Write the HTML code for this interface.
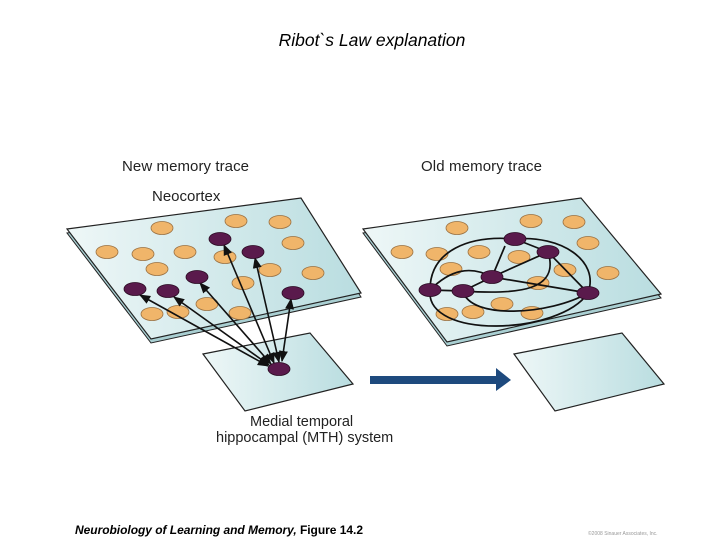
<!DOCTYPE html>
<html><head><meta charset="utf-8"><style>
html,body{margin:0;padding:0;background:#fff;width:720px;height:540px;overflow:hidden}
svg{display:block}
</style></head><body>
<svg width="720" height="540" viewBox="0 0 720 540" xmlns="http://www.w3.org/2000/svg" font-family="Liberation Sans, sans-serif">
<defs>
<linearGradient id="g" x1="0" y1="0" x2="1" y2="0">
<stop offset="0" stop-color="#eef7f7"/><stop offset="1" stop-color="#b9dde0"/>
</linearGradient>
<marker id="ah" viewBox="0 0 10 10" refX="9" refY="5" markerWidth="7" markerHeight="7" orient="auto-start-reverse">
<path d="M0,1 L10,5 L0,9 Z" fill="#111"/>
</marker>
</defs>
<text x="372" y="46" font-size="17.5" font-style="italic" text-anchor="middle">Ribot`s Law explanation</text>
<text x="122" y="171" font-size="15" fill="#222" textLength="127">New memory trace</text>
<text x="421" y="171" font-size="15" fill="#222" textLength="121">Old memory trace</text>
<text x="152" y="201" font-size="15" fill="#222">Neocortex</text>
<text x="250" y="426" font-size="14.5" fill="#222">Medial temporal</text>
<text x="216" y="442" font-size="14.5" fill="#222">hippocampal (MTH) system</text>
<text x="75" y="534" font-size="12" font-weight="bold" font-style="italic" textLength="288">Neurobiology of Learning and Memory,<tspan font-style="normal"> Figure 14.2</tspan></text>
<text x="588" y="535" font-size="5" fill="#999">©2008 Sinauer Associates, Inc.</text>

<polygon points="67,233 301,202 361,297 151,343" fill="#a9cfd2" stroke="#222" stroke-width="1"/>
<polygon points="67,229 301,198 361,293 151,339" fill="url(#g)" stroke="#222" stroke-width="1.2"/>
<polygon points="363,233 581,202 661,298 447,346" fill="#a9cfd2" stroke="#222" stroke-width="1"/>
<polygon points="363,229 581,198 661,294 447,342" fill="url(#g)" stroke="#222" stroke-width="1.2"/>
<polygon points="203,354 310,333 353,384 245,411" fill="url(#g)" stroke="#222" stroke-width="1.2"/>
<polygon points="514,354 622,333 664,384 555,411" fill="url(#g)" stroke="#222" stroke-width="1.2"/>

<g fill="#f0b56a" stroke="#9a7040" stroke-width="0.8">
<ellipse cx="162" cy="228" rx="11" ry="6.5"/><ellipse cx="236" cy="221" rx="11" ry="6.5"/>
<ellipse cx="280" cy="222" rx="11" ry="6.5"/><ellipse cx="293" cy="243" rx="11" ry="6.5"/>
<ellipse cx="107" cy="252" rx="11" ry="6.5"/><ellipse cx="143" cy="254" rx="11" ry="6.5"/>
<ellipse cx="185" cy="252" rx="11" ry="6.5"/><ellipse cx="225" cy="257" rx="11" ry="6.5"/>
<ellipse cx="157" cy="269" rx="11" ry="6.5"/><ellipse cx="270" cy="270" rx="11" ry="6.5"/>
<ellipse cx="313" cy="273" rx="11" ry="6.5"/><ellipse cx="243" cy="283" rx="11" ry="6.5"/>
<ellipse cx="207" cy="304" rx="11" ry="6.5"/><ellipse cx="152" cy="314" rx="11" ry="6.5"/>
<ellipse cx="178" cy="312" rx="11" ry="6.5"/><ellipse cx="240" cy="313" rx="11" ry="6.5"/>

<ellipse cx="457" cy="228" rx="11" ry="6.5"/><ellipse cx="531" cy="221" rx="11" ry="6.5"/>
<ellipse cx="574" cy="222" rx="11" ry="6.5"/><ellipse cx="588" cy="243" rx="11" ry="6.5"/>
<ellipse cx="402" cy="252" rx="11" ry="6.5"/><ellipse cx="437" cy="254" rx="11" ry="6.5"/>
<ellipse cx="479" cy="252" rx="11" ry="6.5"/><ellipse cx="519" cy="257" rx="11" ry="6.5"/>
<ellipse cx="451" cy="269" rx="11" ry="6.5"/><ellipse cx="565" cy="270" rx="11" ry="6.5"/>
<ellipse cx="608" cy="273" rx="11" ry="6.5"/><ellipse cx="538" cy="283" rx="11" ry="6.5"/>
<ellipse cx="502" cy="304" rx="11" ry="6.5"/><ellipse cx="447" cy="314" rx="11" ry="6.5"/>
<ellipse cx="473" cy="312" rx="11" ry="6.5"/><ellipse cx="532" cy="313" rx="11" ry="6.5"/>
</g>

<g stroke="#111" stroke-width="1.6" fill="none" marker-start="url(#ah)" marker-end="url(#ah)">
<line x1="224" y1="245" x2="274" y2="363"/>
<line x1="255" y1="258" x2="279" y2="362"/>
<line x1="200" y1="283" x2="271" y2="364"/>
<line x1="140" y1="295" x2="268" y2="366"/>
<line x1="174" y1="297" x2="269" y2="365"/>
<line x1="291" y1="299" x2="282" y2="361"/>
</g>

<g stroke="#111" stroke-width="1.7" fill="none">
<path d="M430,290 C430,250 470,235 515,239"/>
<path d="M515,239 C560,235 600,260 588,293"/>
<path d="M430,290 C425,340 560,335 588,293"/>
<path d="M430,290 L463,291"/>
<path d="M463,291 L492,277"/>
<path d="M492,277 L548,252"/>
<path d="M492,277 L588,293"/>
<path d="M548,252 L588,293"/>
<path d="M515,239 L548,252"/>
<path d="M492,277 L505,246"/>
<path d="M463,291 C470,320 550,315 588,293"/>
<path d="M463,291 C520,295 560,290 548,252"/>
<path d="M430,290 C450,270 470,265 492,277"/>
</g>

<g fill="#5a1a4c" stroke="#2a0a22" stroke-width="0.8">
<ellipse cx="220" cy="239" rx="11" ry="6.5"/><ellipse cx="253" cy="252" rx="11" ry="6.5"/>
<ellipse cx="197" cy="277" rx="11" ry="6.5"/><ellipse cx="135" cy="289" rx="11" ry="6.5"/>
<ellipse cx="168" cy="291" rx="11" ry="6.5"/><ellipse cx="293" cy="293" rx="11" ry="6.5"/>
<ellipse cx="279" cy="369" rx="11" ry="6.5"/>
<ellipse cx="515" cy="239" rx="11" ry="6.5"/><ellipse cx="548" cy="252" rx="11" ry="6.5"/>
<ellipse cx="492" cy="277" rx="11" ry="6.5"/><ellipse cx="430" cy="290" rx="11" ry="6.5"/>
<ellipse cx="463" cy="291" rx="11" ry="6.5"/><ellipse cx="588" cy="293" rx="11" ry="6.5"/>
</g>

<rect x="370" y="376" width="128" height="8" fill="#1e4a7e"/>
<polygon points="496,368 511,380 496,391" fill="#1e4a7e"/>
</svg>
</body></html>
